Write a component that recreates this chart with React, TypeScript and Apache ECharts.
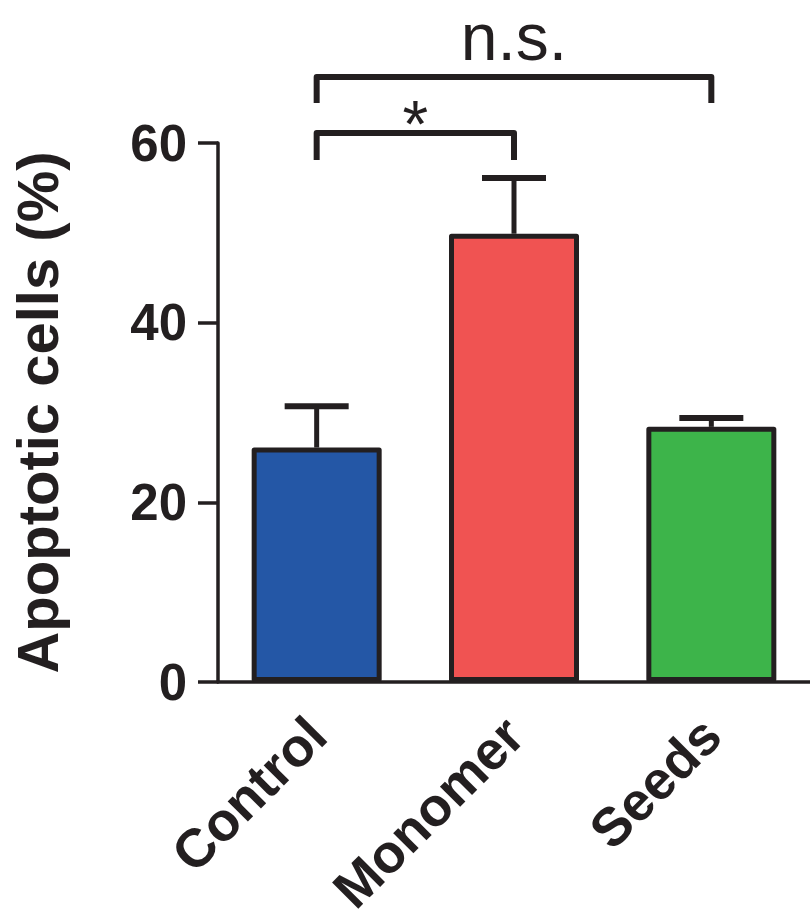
import React, { useEffect, useRef } from "react";
import * as echarts from "echarts";

const categories = ["Control", "Monomer", "Seeds"];
const means = [26.1, 49.9, 28.4];
const errorTops = [30.7, 56.1, 29.4];
const barColors = ["#2457A6", "#F05352", "#3DB44A"];
const yTicks = [0, 20, 40, 60];

const bracketFrom = [0, 0];
const bracketTo = [1, 2];
const bracketTop = [61.1, 67.35];
const bracketLeg = [58.1, 64.45];
const bracketLabels = ["*", "n.s."];
const bracketLabelY = [62.1, 71.8];

const INK = "#231f20";
const FONT = "'Liberation Sans', Arial, Helvetica, sans-serif";

export default function App() {
  const ref = useRef<HTMLDivElement>(null);
  useEffect(() => {
    document.body.style.margin = "0";
    if (!ref.current) return;
    const chart = echarts.init(ref.current, undefined, { renderer: "svg" });
    chart.setOption({
      animation: false,
      backgroundColor: "#ffffff",
      grid: { left: 216, right: 0, top: 143, bottom: 241, containLabel: false },
      xAxis: {
        type: "category",
        data: categories,
        axisLine: { lineStyle: { color: INK, width: 3.5 } },
        axisTick: { alignWithLabel: true, length: 18, lineStyle: { color: INK, width: 3.5 } },
        axisLabel: {
          rotate: 45,
          margin: 44,
          color: INK,
          fontSize: 54,
          fontWeight: "bold",
          fontFamily: FONT,
          interval: 0,
        },
      },
      yAxis: {
        type: "value",
        min: yTicks[0],
        max: yTicks[yTicks.length - 1],
        interval: 20,
        splitLine: { show: false },
        axisLine: { show: true, lineStyle: { color: INK, width: 3.5 } },
        axisTick: { show: true, length: 20, lineStyle: { color: INK, width: 3.5 } },
        axisLabel: {
          margin: 31,
          color: INK,
          fontSize: 51,
          fontWeight: "bold",
          fontFamily: FONT,
        },
        name: "Apoptotic cells (%)",
        nameLocation: "middle",
        nameGap: 152,
        nameTextStyle: { color: INK, fontSize: 58, fontWeight: "bold", fontFamily: FONT },
      },
      series: [
        {
          type: "bar",
          barWidth: 130,
          data: means.map((v, i) => ({
            value: v,
            itemStyle: { color: barColors[i], borderColor: INK, borderWidth: 5, borderJoin: "round" },
          })),
          z: 2,
        },
        {
          type: "custom",
          z: 3,
          data: means.map((v, i) => [i, v, errorTops[i]]),
          renderItem: (params: any, api: any) => {
            const x = api.value(0);
            const p0 = api.coord([x, api.value(1)]);
            const p1 = api.coord([x, api.value(2)]);
            return {
              type: "group",
              children: [
                {
                  type: "line",
                  shape: { x1: p0[0], y1: p0[1], x2: p1[0], y2: p1[1] },
                  style: { stroke: INK, lineWidth: 5 },
                },
                {
                  type: "line",
                  shape: { x1: p1[0] - 32, y1: p1[1], x2: p1[0] + 32, y2: p1[1] },
                  style: { stroke: INK, lineWidth: 6 },
                },
              ],
            };
          },
        },
        {
          type: "custom",
          z: 4,
          clip: false,
          data: bracketFrom.map((f, i) => [f, bracketTo[i], bracketTop[i], bracketLeg[i], bracketLabelY[i]]),
          renderItem: (params: any, api: any) => {
            const i = params.dataIndex;
            const a = api.coord([api.value(0), api.value(3)]);
            const b = api.coord([api.value(0), api.value(2)]);
            const c = api.coord([api.value(1), api.value(2)]);
            const d = api.coord([api.value(1), api.value(3)]);
            const l0 = api.coord([api.value(0), api.value(4)]);
            const l1 = api.coord([api.value(1), api.value(4)]);
            return {
              type: "group",
              children: [
                {
                  type: "polyline",
                  shape: { points: [a, b, c, d] },
                  style: { stroke: INK, lineWidth: 6, fill: "none", lineJoin: "round" },
                },
                {
                  type: "text",
                  style: {
                    text: bracketLabels[i],
                    x: (l0[0] + l1[0]) / 2,
                    y: l0[1],
                    align: "center",
                    verticalAlign: "middle",
                    fontSize: 66,
                    fontFamily: FONT,
                    fill: INK,
                  },
                },
              ],
            };
          },
        },
      ],
    });
    return () => chart.dispose();
  }, []);
  return <div ref={ref} style={{ width: 810, height: 923 }} />;
}
